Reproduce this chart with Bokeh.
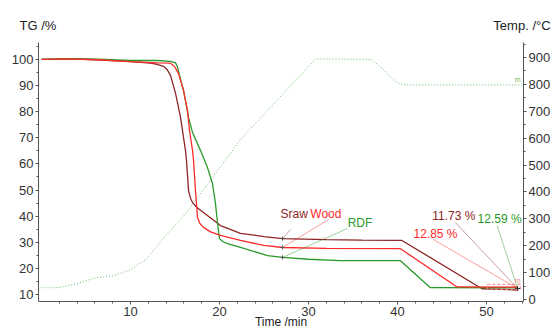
from bokeh.plotting import figure
from bokeh.models import Range1d, LinearAxis, SingleIntervalTicker, FixedTicker, Label, Title
from bokeh.embed import file_html
from bokeh.resources import INLINE

# ---- data ----
sraw_t = [0, 3, 6.3, 10, 12.25, 13.0, 13.71, 14.1, 14.49, 15.06, 15.62, 15.96, 16.18, 16.29, 16.52, 16.75, 16.97, 17.5, 18.2, 20.11, 22.36, 25, 27.1, 32, 36, 40.5, 49.5, 53.5]
sraw_tg = [100, 100.2, 99.9, 99.2, 98.6, 98.1, 97.4, 96.2, 93.9, 87.0, 77.8, 70.1, 65.1, 61.3, 49.8, 46.8, 45.2, 43.2, 41.4, 36.4, 33.4, 32.2, 31.4, 31.0, 30.8, 30.7, 12.2, 11.73]

wood_t = [0, 3, 6.3, 10, 13.0, 14.49, 15.0, 15.39, 15.96, 16.4, 16.63, 16.97, 17.08, 17.3, 17.53, 17.8, 18.2, 19.0, 20.11, 22.36, 25, 27.1, 32, 40.3, 46.7, 53.5]
wood_tg = [100, 100.2, 99.9, 99.2, 98.7, 98.6, 97.0, 94.6, 88.1, 80.5, 72.8, 65.1, 61.3, 49.8, 39.5, 37.2, 35.7, 34.0, 32.6, 30.7, 28.8, 28.0, 27.7, 27.6, 12.9, 12.85]

rdf_t = [0, 3, 6.3, 10, 13.0, 14.5, 15.06, 15.25, 15.5, 15.96, 16.52, 16.97, 17.87, 18.65, 19.21, 19.55, 19.78, 20.0, 20.4, 20.9, 22.36, 25.4, 27.1, 30, 33.6, 40.3, 43.7, 53.5]
rdf_tg = [100, 100.3, 100.1, 99.6, 99.6, 99.3, 98.7, 97.4, 94.0, 88.1, 77.8, 72.0, 65.1, 58.6, 52.5, 44.8, 37.2, 31.4, 30.2, 29.5, 28.0, 24.9, 24.2, 23.5, 23.0, 23.0, 12.6, 12.59]

temp_t = [0, 1.9, 4.0, 6.1, 8.0, 10, 11.9, 13.7, 16.0, 17.5, 22.4, 30.8, 37.0, 38.1, 39.2, 40.0, 40.6, 54]
temp_c = [44, 44, 59, 81, 88, 110, 154, 228, 312, 378, 596, 895, 893, 866, 829, 807, 798, 798]

final_labels = ["11.73 %", "12.85 %", "12.59 %"]
x_ticks = [10, 20, 30, 40, 50]
x_minor = [2, 4, 6, 8, 12, 14, 16, 18, 22, 24, 26, 28, 32, 34, 36, 38, 42, 44, 46, 48, 52, 54]

C_SRAW = "#8e2424"
C_WOOD = "#ff2a2a"
C_RDF = "#2a9a2a"
C_TEMP = "#66bb66"
FONT = "Liberation Sans"

p = figure(width=554, height=331, output_backend="svg", toolbar_location=None,
           x_range=Range1d(-0.34, 54.16), y_range=Range1d(7.32, 106.5),
           min_border_left=38, min_border_right=31, min_border_top=42, min_border_bottom=30)
p.outline_line_color = None
p.xgrid.visible = False
p.ygrid.visible = False
p.extra_y_ranges = {"temp": Range1d(-7.4, 955.8)}
p.add_layout(LinearAxis(y_range_name="temp"), "right")

p.xaxis.ticker = FixedTicker(ticks=x_ticks, minor_ticks=x_minor)
p.yaxis[0].ticker = SingleIntervalTicker(interval=10, num_minor_ticks=2)
p.yaxis[1].ticker = SingleIntervalTicker(interval=100, num_minor_ticks=2)

for ax in p.axis:
    ax.axis_line_color = "#555555"
    ax.major_tick_line_color = "#555555"
    ax.minor_tick_line_color = "#555555"
    ax.major_tick_out = 3
    ax.major_tick_in = 0
    ax.minor_tick_out = 2
    ax.minor_tick_in = 0
    ax.major_label_standoff = 2
    ax.major_label_text_font = FONT
    ax.major_label_text_font_size = "13px"
    ax.major_label_text_color = "#333333"

p.xaxis.axis_label = "Time /min"
p.xaxis.axis_label_text_font = FONT
p.xaxis.axis_label_text_font_size = "12px"
p.xaxis.axis_label_text_font_style = "normal"
p.xaxis.axis_label_text_color = "#222222"
p.xaxis.axis_label_standoff = -4

# temperature (right axis)
p.line(temp_t, temp_c, y_range_name="temp", line_color=C_TEMP, line_width=1, line_dash="1 2")

# TG curves
p.line(sraw_t, sraw_tg, line_color=C_SRAW, line_width=1.3)
p.line(rdf_t, rdf_tg, line_color=C_RDF, line_width=1.3)
p.line(wood_t, wood_tg, line_color=C_WOOD, line_width=1.3)

# leader lines for curve names
p.segment(x0=[28.0, 32.25, 34.4], y0=[34.9, 38.7, 35.3], x1=[27.08, 27.08, 27.08], y1=[31.4, 28.0, 24.2],
          line_color=[C_SRAW, C_WOOD, C_RDF], line_alpha=0.45, line_width=1)
p.scatter([27.08, 27.08, 27.08], [31.4, 28.0, 24.2], marker="cross", size=4, line_color="#555555")

# leader lines for final residues
p.segment(x0=[46.5, 44.0, 51.2], y0=[37.6, 31.1, 36.4], x1=[53.5, 53.5, 53.5], y1=[12.3, 12.3, 12.3],
          line_color=[C_SRAW, C_WOOD, C_RDF], line_alpha=0.45, line_width=1)
p.quad(left=[50.1], right=[53.8], bottom=[12.0], top=[13.9], fill_alpha=0,
       line_color="#f08080", line_dash="3 2", line_width=1)
p.scatter([53.5], [12.3], marker="cross", size=5, line_color="#333333")

def lab(x, y, text, color, size="12px", align="left"):
    p.add_layout(Label(x=x, y=y, text=text, text_color=color, text_font=FONT,
                       text_font_size=size, text_align=align, text_baseline="middle"))

lab(26.85, 41.0, "Sraw", C_SRAW)
lab(30.2, 41.0, "Wood", C_WOOD)
lab(34.4, 37.2, "RDF", C_RDF)
lab(43.9, 40.25, final_labels[0], C_SRAW)
lab(41.8, 33.0, final_labels[1], C_WOOD)
lab(49.0, 39.1, final_labels[2], C_RDF)
lab(53.5, 15.4, "m", "#f09090", size="7px", align="center")
p.add_layout(Label(x=53.5, y=805, y_range_name="temp", text="m", text_color=C_TEMP, text_font=FONT,
                   text_font_size="7px", text_align="center", text_baseline="bottom"))

# axis titles at the top (one title line: left and right axis names separated by no-break spaces)
top_text = "TG /%" + "\u00a0" * 121 + "Temp. /°C"
p.add_layout(Title(text=top_text, align="left", offset=-19, standoff=20,
                   text_font=FONT, text_font_size="13px", text_font_style="normal",
                   text_color="#222222"), "above")

open("out.html", "w").write(file_html(p, INLINE))
